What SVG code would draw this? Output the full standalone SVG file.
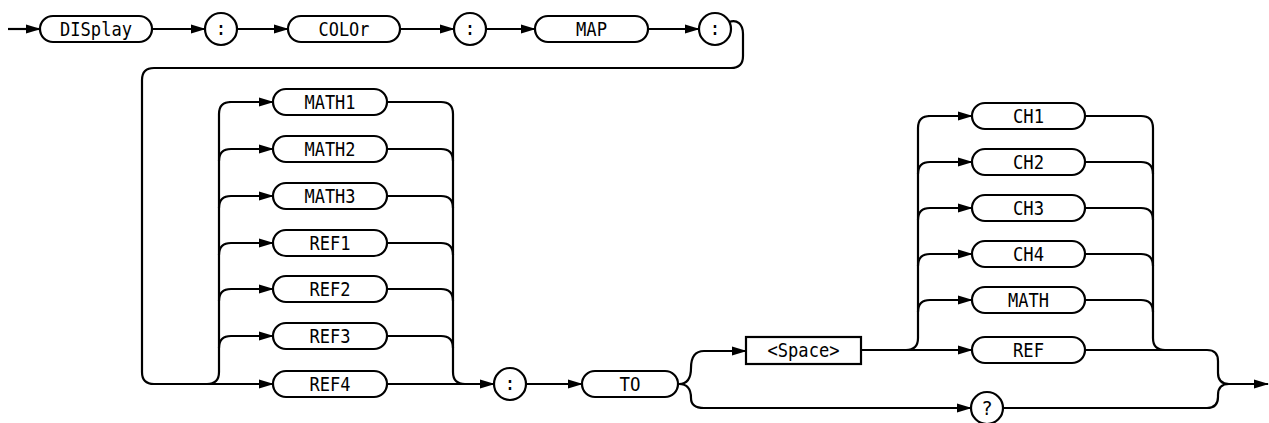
<svg xmlns="http://www.w3.org/2000/svg" width="1269" height="423" viewBox="0 0 1269 423">
<style>
.pill{fill:#fff;stroke:#000;stroke-width:2.2}
.box{fill:#fff;stroke:#000;stroke-width:2.2}
.c{fill:none;stroke:#000;stroke-width:2.2;stroke-linejoin:round}
.a{marker-end:url(#ah)}
text{font-family:"DejaVu Sans Mono","Liberation Mono",monospace;font-size:19px;text-anchor:middle;fill:#000}
</style>
<defs>
<marker id="ah" markerUnits="userSpaceOnUse" viewBox="0 -5 15 10" refX="14" refY="0" markerWidth="15" markerHeight="10" orient="auto">
<path d="M0,-4.6 L15,0 L0,4.6 z" fill="#000"/>
</marker>
</defs>
<rect width="1269" height="423" fill="#fff"/>
<g id="connectors">
<path class="c a" d="M8 29 L40 29"/>
<path class="c a" d="M152 29 L205 29"/>
<path class="c a" d="M237 29 L288 29"/>
<path class="c a" d="M400 29 L454 29"/>
<path class="c a" d="M486 29 L535 29"/>
<path class="c a" d="M648 29 L699 29"/>
<path class="c" d="M729 22 C737 19 743 24 743 34 L743 56 Q743 68 731 68 L154 68 Q142 68 142 80 L142 372 Q142 384 154 384"/>
<path class="c a" d="M152 384 L273 384"/>
<path class="c" d="M207 384 Q219 384 219 372 L219 114 Q219 102 231 102"/>
<path class="c a" d="M229 102 L273 102"/>
<path class="c a" d="M219 161 Q219 149 231 149 L273 149"/>
<path class="c a" d="M219 208 Q219 196 231 196 L273 196"/>
<path class="c a" d="M219 255 Q219 243 231 243 L273 243"/>
<path class="c a" d="M219 301 Q219 289 231 289 L273 289"/>
<path class="c a" d="M219 348 Q219 336 231 336 L273 336"/>
<path class="c" d="M387 102 L441 102 Q453 102 453 114 L453 372 Q453 384 465 384"/>
<path class="c" d="M387 149 L441 149 Q453 149 453 161"/>
<path class="c" d="M387 196 L441 196 Q453 196 453 208"/>
<path class="c" d="M387 243 L441 243 Q453 243 453 255"/>
<path class="c" d="M387 289 L441 289 Q453 289 453 301"/>
<path class="c" d="M387 336 L441 336 Q453 336 453 348"/>
<path class="c a" d="M387 384 L494 384"/>
<path class="c a" d="M526 384 L582 384"/>
<path class="c a" d="M679 384 C688 384 691 378 691 368 C691 358 694 351 704 351 L746 351"/>
<path class="c a" d="M679 384 C688 384 691 390 691 398 C691 403 694 408 704 408 L971 408"/>
<path class="c a" d="M861 350 L972 350"/>
<path class="c" d="M906 350 Q918 350 918 338 L918 128 Q918 116 930 116"/>
<path class="c a" d="M928 116 L972 116"/>
<path class="c a" d="M918 174 Q918 162 930 162 L972 162"/>
<path class="c a" d="M918 220 Q918 208 930 208 L972 208"/>
<path class="c a" d="M918 266 Q918 254 930 254 L972 254"/>
<path class="c a" d="M918 312 Q918 300 930 300 L972 300"/>
<path class="c" d="M1085 116 L1141 116 Q1153 116 1153 128 L1153 338 Q1153 350 1165 350"/>
<path class="c" d="M1085 162 L1141 162 Q1153 162 1153 174"/>
<path class="c" d="M1085 208 L1141 208 Q1153 208 1153 220"/>
<path class="c" d="M1085 254 L1141 254 Q1153 254 1153 266"/>
<path class="c" d="M1085 300 L1141 300 Q1153 300 1153 312"/>
<path class="c" d="M1085 350 L1207 350 Q1218 350 1218 361 L1218 373 Q1218 384 1229 384"/>
<path class="c" d="M1003 408 L1207 408 Q1218 408 1218 397 L1218 395 Q1218 384 1229 384"/>
<path class="c a" d="M1228 384 L1268 384"/>
</g>
<g id="n-display"><rect class="pill" x="40" y="16" width="112" height="26" rx="13"/><text x="96" y="36" textLength="72" lengthAdjust="spacingAndGlyphs">DISplay</text></g>
<g id="n-colon1"><circle class="pill" cx="221" cy="29" r="16"/><text x="221" y="35">:</text></g>
<g id="n-color"><rect class="pill" x="288" y="16" width="112" height="26" rx="13"/><text x="344" y="36" textLength="51" lengthAdjust="spacingAndGlyphs">COLOr</text></g>
<g id="n-colon2"><circle class="pill" cx="470" cy="29" r="16"/><text x="470" y="35">:</text></g>
<g id="n-map"><rect class="pill" x="535" y="16" width="113" height="26" rx="13"/><text x="591.5" y="36" textLength="31" lengthAdjust="spacingAndGlyphs">MAP</text></g>
<g id="n-colon3"><circle class="pill" cx="715" cy="29" r="16"/><text x="715" y="35">:</text></g>
<g id="n-math1"><rect class="pill" x="273" y="89" width="114" height="26" rx="13"/><text x="330" y="109" textLength="51" lengthAdjust="spacingAndGlyphs">MATH1</text></g>
<g id="n-math2"><rect class="pill" x="273" y="136" width="114" height="26" rx="13"/><text x="330" y="156" textLength="51" lengthAdjust="spacingAndGlyphs">MATH2</text></g>
<g id="n-math3"><rect class="pill" x="273" y="183" width="114" height="26" rx="13"/><text x="330" y="203" textLength="51" lengthAdjust="spacingAndGlyphs">MATH3</text></g>
<g id="n-ref1"><rect class="pill" x="273" y="230" width="114" height="26" rx="13"/><text x="330" y="250" textLength="41" lengthAdjust="spacingAndGlyphs">REF1</text></g>
<g id="n-ref2"><rect class="pill" x="273" y="276" width="114" height="26" rx="13"/><text x="330" y="296" textLength="41" lengthAdjust="spacingAndGlyphs">REF2</text></g>
<g id="n-ref3"><rect class="pill" x="273" y="323" width="114" height="26" rx="13"/><text x="330" y="343" textLength="41" lengthAdjust="spacingAndGlyphs">REF3</text></g>
<g id="n-ref4"><rect class="pill" x="273" y="371" width="114" height="26" rx="13"/><text x="330" y="391" textLength="41" lengthAdjust="spacingAndGlyphs">REF4</text></g>
<g id="n-colon4"><circle class="pill" cx="510" cy="384" r="16"/><text x="510" y="390">:</text></g>
<g id="n-to"><rect class="pill" x="582" y="371" width="96" height="26" rx="13"/><text x="630" y="391" textLength="21" lengthAdjust="spacingAndGlyphs">TO</text></g>
<g id="n-space"><rect class="box" x="746" y="337" width="115" height="27"/><text x="803.5" y="357" textLength="72" lengthAdjust="spacingAndGlyphs">&lt;Space&gt;</text></g>
<g id="n-ch1"><rect class="pill" x="972" y="103" width="113" height="26" rx="13"/><text x="1028.5" y="123" textLength="31" lengthAdjust="spacingAndGlyphs">CH1</text></g>
<g id="n-ch2"><rect class="pill" x="972" y="149" width="113" height="26" rx="13"/><text x="1028.5" y="169" textLength="31" lengthAdjust="spacingAndGlyphs">CH2</text></g>
<g id="n-ch3"><rect class="pill" x="972" y="195" width="113" height="26" rx="13"/><text x="1028.5" y="215" textLength="31" lengthAdjust="spacingAndGlyphs">CH3</text></g>
<g id="n-ch4"><rect class="pill" x="972" y="241" width="113" height="26" rx="13"/><text x="1028.5" y="261" textLength="31" lengthAdjust="spacingAndGlyphs">CH4</text></g>
<g id="n-math"><rect class="pill" x="972" y="287" width="113" height="26" rx="13"/><text x="1028.5" y="307" textLength="41" lengthAdjust="spacingAndGlyphs">MATH</text></g>
<g id="n-ref"><rect class="pill" x="972" y="337" width="113" height="26" rx="13"/><text x="1028.5" y="357" textLength="31" lengthAdjust="spacingAndGlyphs">REF</text></g>
<g id="n-query"><circle class="pill" cx="987" cy="408" r="16"/><text x="987" y="415">?</text></g>
</svg>
